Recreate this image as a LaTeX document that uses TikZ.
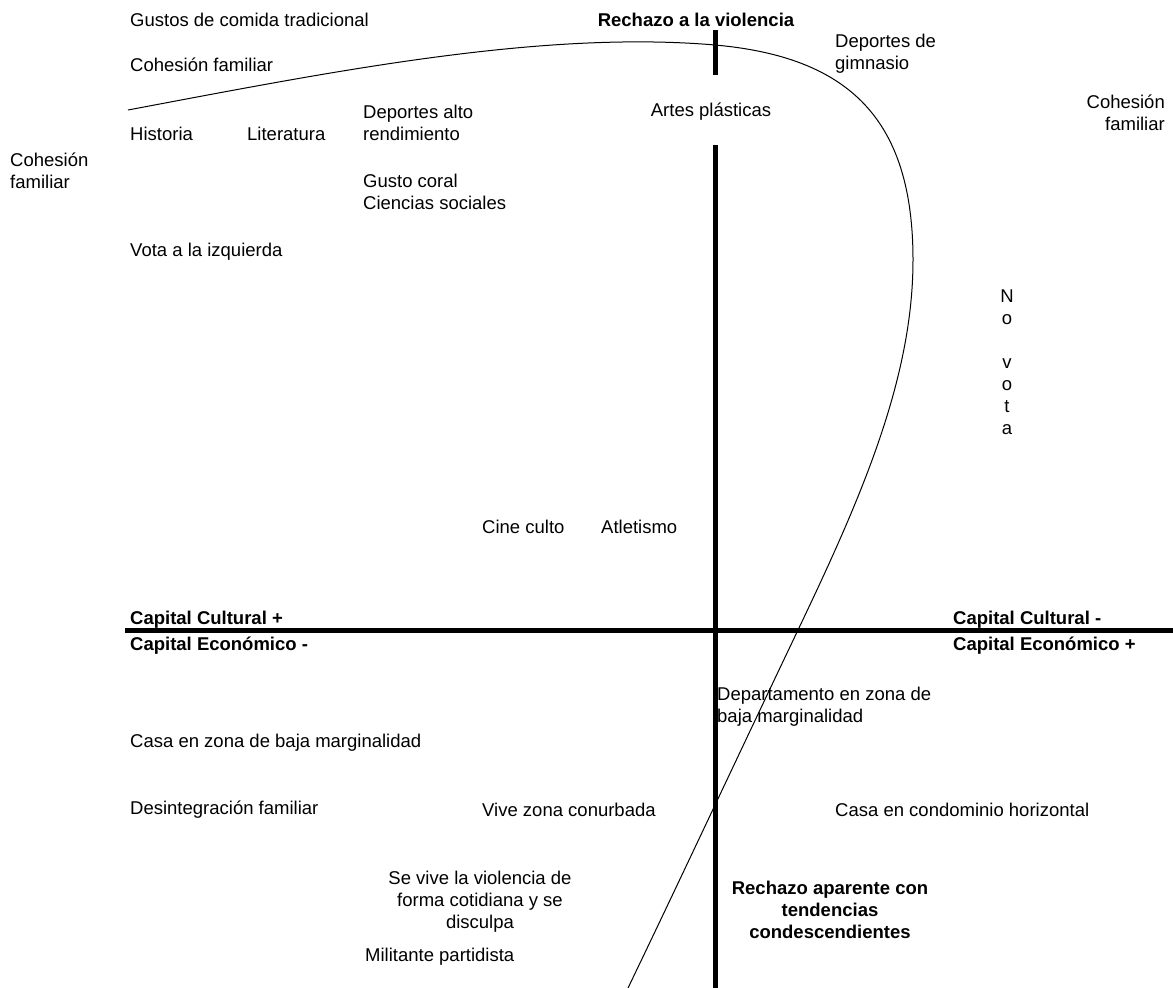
\documentclass[tikz,border=0pt]{standalone}
\usepackage{fontspec}
\setmainfont{Liberation Sans}
\begin{document}
\begin{tikzpicture}[x=1pt,y=-1pt,
  lbl/.style={inner sep=0pt,yshift=-2pt,font=\fontsize{18.5}{22}\selectfont,align=left},
  blbl/.style={lbl,font=\fontsize{18.5}{22}\selectfont\bfseries},
  axis/.style={line width=5pt},
  curve/.style={line width=1pt}]
\useasboundingbox (0,0) rectangle (1173,988);
% axes
\coordinate (hl) at (125,630);
\coordinate (hr) at (1173,630);
\coordinate (vt1) at (715,30);
\coordinate (vb1) at (715,75);
\coordinate (vt2) at (715,145);
\coordinate (vb2) at (715,988);
\draw[axis] (hl) -- (hr);
\draw[axis] (vt1) -- (vb1);
\draw[axis] (vt2) -- (vb2);
% curve
\coordinate (c0) at (128,110);
\coordinate (c1) at (715,45);
\coordinate (c2) at (913,260);
\coordinate (c3) at (798,630);
\coordinate (c4) at (628,988);
\draw[curve] (c0) .. controls (330,72) and (540,30) .. (c1)
  .. controls (850,57) and (913,120) .. (c2)
  .. controls (913,380) and (860,500) .. (c3)
  .. controls (736,760) and (680,880) .. (c4);
% labels
\node[lbl,anchor=west] (gustos) at (130,18) {Gustos de comida tradicional};
\node[lbl,anchor=west] (cohes1) at (130,63) {Cohesión familiar};
\node[lbl,anchor=west] (hist) at (130,132) {Historia};
\node[lbl,anchor=west] (lit) at (247,132) {Literatura};
\node[lbl,anchor=west] (depalto) at (363,121) {Deportes alto\\rendimiento};
\node[lbl,anchor=west] (cohes2) at (10,169) {Cohesión\\familiar};
\node[lbl,anchor=west] (coral) at (363,190) {Gusto coral\\Ciencias sociales};
\node[lbl,anchor=west] (vota) at (130,250) {Vota a la izquierda};
\node[blbl,anchor=center] (rech) at (696,18) {Rechazo a la violencia};
\node[lbl,anchor=west] (gim) at (835,52) {Deportes de\\gimnasio};
\node[lbl,anchor=center] (artes) at (711,110) {Artes plásticas};
\node[lbl,anchor=east,align=right] (cohes3) at (1165,111) {Cohesión\\familiar};
\node[lbl,anchor=north,align=center] (novota) at (1007,288) {N\\o\\\strut\\v\\o\\t\\a};
\node[lbl,anchor=west] (cine) at (482,525) {Cine culto};
\node[lbl,anchor=west] (atle) at (601,525) {Atletismo};
\node[blbl,anchor=west] (ccp) at (130,618) {Capital Cultural +};
\node[blbl,anchor=west] (cem) at (130,644) {Capital Económico -};
\node[blbl,anchor=west] (ccm) at (953,618) {Capital Cultural -};
\node[blbl,anchor=west] (cep) at (953,644) {Capital Económico +};
\node[lbl,anchor=west] (depto) at (717,705) {Departamento en zona de\\baja marginalidad};
\node[lbl,anchor=west] (casa) at (130,741) {Casa en zona de baja marginalidad};
\node[lbl,anchor=west] (desint) at (130,808) {Desintegración familiar};
\node[lbl,anchor=west] (vive) at (482,808) {Vive zona conurbada};
\node[lbl,anchor=west] (condo) at (835,808) {Casa en condominio horizontal};
\node[lbl,anchor=center,align=center] (sevive) at (480,900) {Se vive la violencia de\\forma cotidiana y se\\disculpa};
\node[lbl,anchor=west] (milit) at (365,955) {Militante partidista};
\node[blbl,anchor=center,align=center] (rapar) at (830,908) {Rechazo aparente con\\tendencias\\condescendientes};
\end{tikzpicture}
\end{document}
